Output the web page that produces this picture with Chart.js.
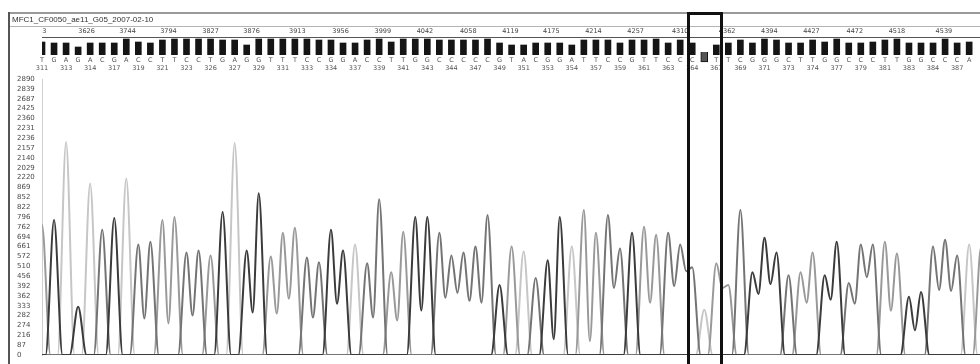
<!DOCTYPE html>
<html>
<head>
<meta charset="utf-8">
<title>MFC1_CF0050_ae11_G05_2007-02-10</title>
<script src="https://cdn.jsdelivr.net/npm/chart.js@4.4.0/dist/chart.umd.min.js"></script>
<style>
  html, body { margin: 0; padding: 0; background: #fff; }
  #page { position: relative; width: 980px; height: 364px; overflow: hidden; font-family: 'Liberation Sans', Arial, sans-serif; filter: blur(0.35px); }
  #frameTop { position: absolute; left: 9px; top: 12px; width: 971px; border-top: 2px solid #9a9a9a; }
  #frameTitle { position: absolute; left: 9px; top: 26px; width: 971px; border-top: 1px solid #b4b4b4; }
  #frameLeft { position: absolute; left: 8px; top: 12px; width: 2px; height: 352px; background: #555; }
  #title { position: absolute; left: 12px; top: 15px; font-size: 8px; color: #333; white-space: nowrap; }
  #headWrap { position: absolute; left: 14px; top: 27px; }
  #mainWrap { position: absolute; left: 14px; top: 72px; }
  #box { position: absolute; top: 12px; height: 360px; border: 3px solid #111; box-sizing: border-box; }
</style>
</head>
<body>
<div id="page">
  <div id="frameTop"></div>
  <div id="frameTitle"></div>
  <div id="frameLeft"></div>
  <div id="title">MFC1_CF0050_ae11_G05_2007-02-10</div>
  <div id="headWrap"><canvas id="headChart" width="966" height="50"></canvas></div>
  <div id="mainWrap"><canvas id="mainChart" width="966" height="292"></canvas></div>
</div>
<div id="box"></div>
<script>
// called bases, one per peak (index = base position on the x axis)
var baseLetters = ['T','G','A','G','A','C','G','A','C','C',
                   'T','T','C','C','T','G','A','G','G','T',
                   'T','T','C','C','G','G','A','C','C','T',
                   'T','G','G','C','C','C','C','C','G','T',
                   'A','C','G','G','A','T','T','C','C','G',
                   'T','T','C','C','C','A','T','T','C','G',
                   'G','G','C','T','T','G','G','C','C','C',
                   'T','T','G','G','C','C','C','A','T']

// peak height of each base (signal units)
var peakHeights = [1320,1370,2160,490,1740,1270,1390,1790,1120,1150,
                   1370,1400,1040,1060,1010,1450,2150,1060,1640,1000,
                   1240,1290,990,940,1270,1060,1120,930,1580,840,
                   1250,1400,1400,1240,1010,1040,1100,1420,710,1100,
                   1050,780,960,1400,1100,1470,1240,1420,1080,1240,
                   1300,1220,1240,1120,890,460,930,710,1470,840,
                   1190,1040,810,840,1040,810,1150,730,1120,1120,
                   1150,1030,590,640,1100,1170,1010,1120,1100]

// height of the dip between a peak and the next one when both are the same base
var valleyAfter = [null,null,null,null,null,null,null,null,370,null,
                   320,null,400,null,null,null,null,430,null,420,
                   570,null,380,null,520,null,null,380,null,350,
                   null,450,null,580,630,550,530,null,null,null,
                   null,null,160,null,null,140,null,680,null,null,
                   530,null,700,850,null,null,680,null,null,620,
                   720,null,null,530,null,560,null,520,790,null,
                   450,null,250,null,660,650,null,null,null]

// quality bars above the trace (base 55 is the flagged one)
var quality = [13,12,12,8,12,12,12,16,13,12,15,16,16,16,16,15,15,10,16,16,16,16,16,15,
               15,12,12,15,16,13,16,16,16,15,15,15,15,16,12,10,10,12,12,12,10,15,15,15,12,15,15,
               16,12,15,12,null,10,12,15,12,16,15,12,12,15,13,16,12,12,13,15,16,12,12,12,16,12,13]
var flaggedBase = 55
var flaggedRange = [-7, 3]

// base numbers printed under every second base
var baseNumbers = ['311','313','314','317','319','321','323','326','327','329',
                   '331','333','334','337','339','341','343','344','347','349',
                   '351','353','354','357','359','361','363','364','367','369',
                   '371','373','374','377','379','381','383','384','387']

// scan numbers along the top
var scanLabels = ['3','3626','3744','3794','3827','3876','3913','3956','3999','4042','4058',
                  '4119','4175','4214','4257','4310','4362','4394','4427','4472','4518','4539']
var scanPositions = [0.2,3.7,7.1,10.5,14.0,17.4,21.2,24.8,28.3,31.8,35.4,
                     38.9,42.3,45.8,49.3,53.0,56.9,60.4,63.9,67.5,71.0,74.9]

// y axis labels, top to bottom
var yTickLabels = ['2890','2839','2687','2425','2360','2231','2236','2157','2140','2029',
                   '2220','869','852','822','796','762','694','661','572','510',
                   '456','392','362','333','282','274','216','87','0']

var highlightBases = [53.57, 56.56]

var xMax = 77.9
var yMax = 2800
var peakHalfWidth = 0.7
var traceColors = { G: '#3b3b3b', C: '#747474', T: '#999999', A: '#c6c6c6' }
var channelOrder = ['G', 'C', 'T', 'A']

// Build the points of one channel from the peak list
function buildTrace(letter) {
  var pts = [{ x: -1, y: 0 }]
  for (var i = 0; i < baseLetters.length; i++) {
    if (baseLetters[i] !== letter) continue
    var joinedPrev = i > 0 && baseLetters[i - 1] === letter && valleyAfter[i - 1] !== null
    if (!joinedPrev) pts.push({ x: i - peakHalfWidth, y: 0 })
    pts.push({ x: i, y: peakHeights[i] })
    if (i < baseLetters.length - 1 && baseLetters[i + 1] === letter && valleyAfter[i] !== null) {
      pts.push({ x: i + 0.5, y: valleyAfter[i] })
    } else {
      pts.push({ x: i + peakHalfWidth, y: 0 })
    }
  }
  pts.push({ x: 82, y: 0 })
  return pts
}

// ---------- header: quality bars, letters, numbers ----------
var qualityPoints = []
quality.forEach(function (q, i) {
  if (q !== null) qualityPoints.push({ x: i, y: q })
})

new Chart(document.getElementById('headChart').getContext('2d'), {
  type: 'bar',
  data: {
    datasets: [
      { data: qualityPoints, backgroundColor: '#151515', barThickness: 6, grouped: false },
      { data: [{ x: flaggedBase, y: flaggedRange }], backgroundColor: '#555', borderColor: '#111',
        borderWidth: 1, barThickness: 7, grouped: false, clip: false }
    ]
  },
  options: {
    responsive: false,
    animation: false,
    devicePixelRatio: 1,
    events: [],
    layout: { padding: { left: 28, right: 0, top: 0, bottom: 0 } },
    plugins: { legend: { display: false }, tooltip: { enabled: false } },
    scales: {
      x: {
        type: 'linear', position: 'bottom', min: 0, max: xMax, offset: false,
        grid: { display: false, drawTicks: false, offset: false }, border: { display: false },
        afterBuildTicks: function (axis) {
          axis.ticks = baseLetters.map(function (b, i) { return { value: i } })
            .filter(function (t) { return t.value <= xMax })
        },
        ticks: {
          autoSkip: false, maxRotation: 0, padding: 1, color: '#555',
          font: { family: 'DejaVu Sans', size: 6.5, lineHeight: 1.25 },
          callback: function (v, i) {
            return [baseLetters[i], i % 2 === 0 && baseNumbers[i / 2] ? baseNumbers[i / 2] : '']
          }
        },
        afterFit: function (axis) { axis.height = 22 }
      },
      xTop: {
        type: 'linear', position: 'top', min: 0, max: xMax, offset: false,
        grid: { display: false, drawTicks: false, offset: false }, border: { color: '#555', width: 1 },
        afterBuildTicks: function (axis) {
          axis.ticks = scanPositions.map(function (p) { return { value: p } })
        },
        ticks: {
          autoSkip: false, maxRotation: 0, padding: 2, color: '#444',
          font: { family: 'DejaVu Sans', size: 6.5 },
          callback: function (v, i) { return scanLabels[i] }
        },
        afterFit: function (axis) { axis.height = 10 }
      },
      y: { display: false, min: 0, max: 18 }
    }
  }
})

// ---------- main trace chart ----------
var mainChart = new Chart(document.getElementById('mainChart').getContext('2d'), {
  type: 'line',
  data: {
    datasets: channelOrder.map(function (letter) {
      return {
        label: letter,
        data: buildTrace(letter),
        borderColor: traceColors[letter],
        borderWidth: 2,
        pointRadius: 0,
        fill: false,
        cubicInterpolationMode: 'monotone'
      }
    })
  },
  options: {
    responsive: false,
    animation: false,
    devicePixelRatio: 1,
    events: [],
    layout: { padding: { left: 3, right: 0, top: 7, bottom: 9 } },
    plugins: { legend: { display: false }, tooltip: { enabled: false } },
    scales: {
      x: { type: 'linear', min: 0, max: xMax, display: false },
      y: {
        min: 0, max: yMax,
        grid: { display: false, drawTicks: false },
        border: { color: '#cfcfcf', width: 1 },
        afterBuildTicks: function (axis) {
          axis.ticks = yTickLabels.map(function (t, i) { return { value: yMax - i * 100 } })
        },
        ticks: {
          autoSkip: false, crossAlign: 'far', padding: 0, color: '#4a4a4a',
          font: { family: 'DejaVu Sans', size: 7 },
          callback: function (v, i) { return yTickLabels[i] }
        },
        afterFit: function (axis) { axis.width = 25 }
      }
    }
  }
})

// highlight box around the flagged base, placed with the chart's x scale
var xs = mainChart.scales.x
var box = document.getElementById('box')
var boxLeft = 14 + xs.getPixelForValue(highlightBases[0])
var boxRight = 14 + xs.getPixelForValue(highlightBases[1])
box.style.left = boxLeft + 'px'
box.style.width = (boxRight - boxLeft) + 'px'
</script>
</body>
</html>
